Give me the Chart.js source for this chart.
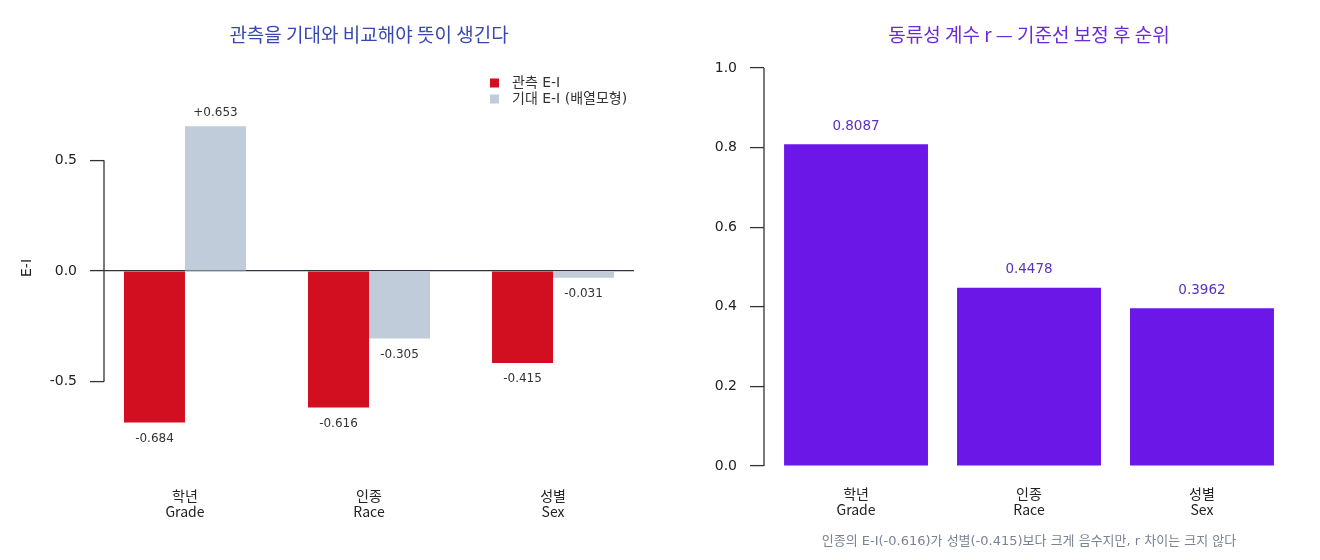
<!DOCTYPE html>
<html lang="ko">
<head>
<meta charset="utf-8">
<title>E-I 와 동류성 계수</title>
<script src="https://cdn.jsdelivr.net/npm/chart.js@4.4.1/dist/chart.umd.min.js"></script>
<style>
  html, body { margin: 0; padding: 0; background: #fff; }
  #wrap { display: flex; width: 1320px; height: 560px; }
  canvas { display: block; }
</style>
</head>
<body>
<div id="wrap">
  <canvas id="eiChart" width="660" height="560"></canvas>
  <canvas id="rChart" width="660" height="560"></canvas>
</div>
<script>
// 데이터
const categoriesKo = ['학년', '인종', '성별'];
const categoriesEn = ['Grade', 'Race', 'Sex'];
const observedEI = [-0.684, -0.616, -0.415];
const expectedEI = [0.653, -0.305, -0.031];
const assortR = [0.8087, 0.4478, 0.3962];
const eiTicks = [-0.5, 0.0, 0.5];
const rTicks = [0.0, 0.2, 0.4, 0.6, 0.8, 1.0];
const seriesLabels = ['관측 E-I', '기대 E-I (배열모형)'];
const captionText = '인종의 E-I(-0.616)가 성별(-0.415)보다 크게 음수지만, r 차이는 크지 않다';

const NUM_FONT = '"DejaVu Sans", "Noto Sans CJK KR", sans-serif';
const KO_FONT = '"Noto Sans CJK KR", "DejaVu Sans", sans-serif';

Chart.defaults.font.family = NUM_FONT;
Chart.defaults.color = '#222';

const toPoints = arr => arr.map((v, i) => ({ x: i + 1, y: v }));

// 패널 제목 (플롯 영역 가운데 정렬)
const panelTitle = {
  id: 'panelTitle',
  afterDraw(chart, args, opts) {
    const { ctx, chartArea } = chart;
    const cx = (chartArea.left + chartArea.right) / 2;
    ctx.save();
    ctx.textAlign = 'center';
    ctx.textBaseline = 'middle';
    ctx.font = opts.size + 'px ' + KO_FONT;
    ctx.fillStyle = opts.color;
    ctx.fillText(opts.text, cx, opts.y);
    if (opts.caption) {
      ctx.font = opts.captionSize + 'px ' + NUM_FONT;
      ctx.fillStyle = opts.captionColor;
      ctx.fillText(opts.caption, cx, opts.captionY);
    }
    ctx.restore();
  }
};

// 첫 눈금 ~ 마지막 눈금까지만 y축 선
const axisLine = {
  id: 'axisLine',
  afterDatasetsDraw(chart) {
    const { ctx, chartArea, scales } = chart;
    const t = scales.y.ticks;
    const y1 = scales.y.getPixelForValue(t[t.length - 1].value);
    const y2 = scales.y.getPixelForValue(t[0].value);
    ctx.save();
    ctx.strokeStyle = '#333';
    ctx.lineWidth = 1.3;
    ctx.beginPath();
    ctx.moveTo(chartArea.left, y1);
    ctx.lineTo(chartArea.left, y2);
    ctx.stroke();
    ctx.restore();
  }
};

// 막대 값 표시
const valueLabels = {
  id: 'valueLabels',
  afterDatasetsDraw(chart, args, opts) {
    const { ctx } = chart;
    ctx.save();
    ctx.textAlign = 'center';
    ctx.textBaseline = 'middle';
    ctx.font = opts.size + 'px ' + NUM_FONT;
    ctx.fillStyle = opts.color;
    chart.data.datasets.forEach((ds, di) => {
      chart.getDatasetMeta(di).data.forEach((bar, i) => {
        const v = ds.data[i].y;
        const y = v >= 0 ? bar.y - opts.up : bar.y + opts.down;
        ctx.fillText(opts.format(v), bar.x, y);
      });
    });
    ctx.restore();
  }
};

// 플롯 안쪽 오른쪽 위 범례
const boxLegend = {
  id: 'boxLegend',
  afterDraw(chart, args, opts) {
    if (!opts.show) return;
    const { ctx, chartArea } = chart;
    const x = chartArea.right - opts.dx;
    ctx.save();
    ctx.font = opts.size + 'px ' + NUM_FONT;
    ctx.textBaseline = 'middle';
    chart.data.datasets.forEach((ds, i) => {
      const y = chartArea.top + opts.dy + i * opts.rowH;
      ctx.fillStyle = ds.backgroundColor;
      ctx.fillRect(x, y - 4.5, 9, 9);
      ctx.fillStyle = '#333';
      ctx.fillText(ds.label, x + 22, y);
    });
    ctx.restore();
  }
};

function categoryAxis(min, max, height) {
  return {
    type: 'linear',
    offset: false,
    min: min,
    max: max,
    grid: { display: false },
    border: { display: false },
    afterBuildTicks: s => { s.ticks = categoriesKo.map((c, i) => ({ value: i + 1 })); },
    afterFit: s => { s.height = height; },
    ticks: {
      autoSkip: false,
      maxRotation: 0,
      padding: 12,
      color: '#222',
      font: { family: KO_FONT, size: 14, lineHeight: 1.15 },
      callback: v => [categoriesKo[v - 1], categoriesEn[v - 1]]
    }
  };
}

function valueAxis(min, max, tickList, zeroLine, titleText) {
  return {
    min: min,
    max: max,
    border: { display: false },
    afterBuildTicks: s => { s.ticks = tickList.map(v => ({ value: v })); },
    afterFit: s => { s.width = 104; },
    grid: {
      drawOnChartArea: zeroLine,
      color: c => (zeroLine && c.tick && c.tick.value === 0) ? '#2d3340' : 'rgba(0,0,0,0)',
      lineWidth: 1.2,
      tickLength: 14,
      tickColor: '#333',
      tickWidth: 1.3
    },
    ticks: {
      padding: 13,
      color: '#222',
      font: { size: 14 },
      callback: v => v.toFixed(1)
    },
    title: {
      display: !!titleText,
      text: titleText || '',
      color: '#222',
      font: { size: 14 },
      padding: { top: 19, bottom: 0 }
    }
  };
}

// 왼쪽: 관측 vs 기대 E-I
new Chart(document.getElementById('eiChart'), {
  type: 'bar',
  data: {
    datasets: [
      { label: seriesLabels[0], data: toPoints(observedEI), backgroundColor: '#d20f20' },
      { label: seriesLabels[1], data: toPoints(expectedEI), backgroundColor: '#c0ccd9' }
    ]
  },
  plugins: [panelTitle, axisLine, valueLabels, boxLegend],
  options: {
    responsive: false,
    animation: false,
    events: [],
    categoryPercentage: 0.663,
    barPercentage: 1,
    layout: { padding: { top: 68, right: 26, left: 0, bottom: 0 } },
    scales: {
      x: categoryAxis(0.56, 3.44, 92),
      y: valueAxis(-0.889, 0.916, eiTicks, true, 'E-I')
    },
    plugins: {
      legend: { display: false },
      tooltip: { enabled: false },
      panelTitle: { text: '관측을 기대와 비교해야 뜻이 생긴다', size: 19, color: '#3848b2', y: 35 },
      valueLabels: {
        size: 12, color: '#333', up: 13, down: 16,
        format: v => (v > 0 ? '+' : '') + v.toFixed(3)
      },
      boxLegend: { show: true, size: 14, dx: 144, dy: 15, rowH: 16 }
    }
  }
});

// 오른쪽: 동류성 계수 r
new Chart(document.getElementById('rChart'), {
  type: 'bar',
  data: {
    datasets: [
      { label: 'r', data: toPoints(assortR), backgroundColor: '#6a17e8' }
    ]
  },
  plugins: [panelTitle, axisLine, valueLabels],
  options: {
    responsive: false,
    animation: false,
    events: [],
    categoryPercentage: 0.832,
    barPercentage: 1,
    layout: { padding: { top: 68, right: 26, left: 0, bottom: 0 } },
    scales: {
      x: categoryAxis(0.468, 3.532, 94),
      y: valueAxis(0, 1, rTicks, false, '')
    },
    plugins: {
      legend: { display: false },
      tooltip: { enabled: false },
      panelTitle: {
        text: '동류성 계수 r — 기준선 보정 후 순위', size: 19, color: '#6a2ad8', y: 35,
        caption: captionText, captionSize: 13, captionColor: '#7a8294', captionY: 542
      },
      valueLabels: {
        size: 13.5, color: '#5b2fc4', up: 18, down: 18,
        format: v => v.toFixed(4)
      }
    }
  }
});
</script>
</body>
</html>
